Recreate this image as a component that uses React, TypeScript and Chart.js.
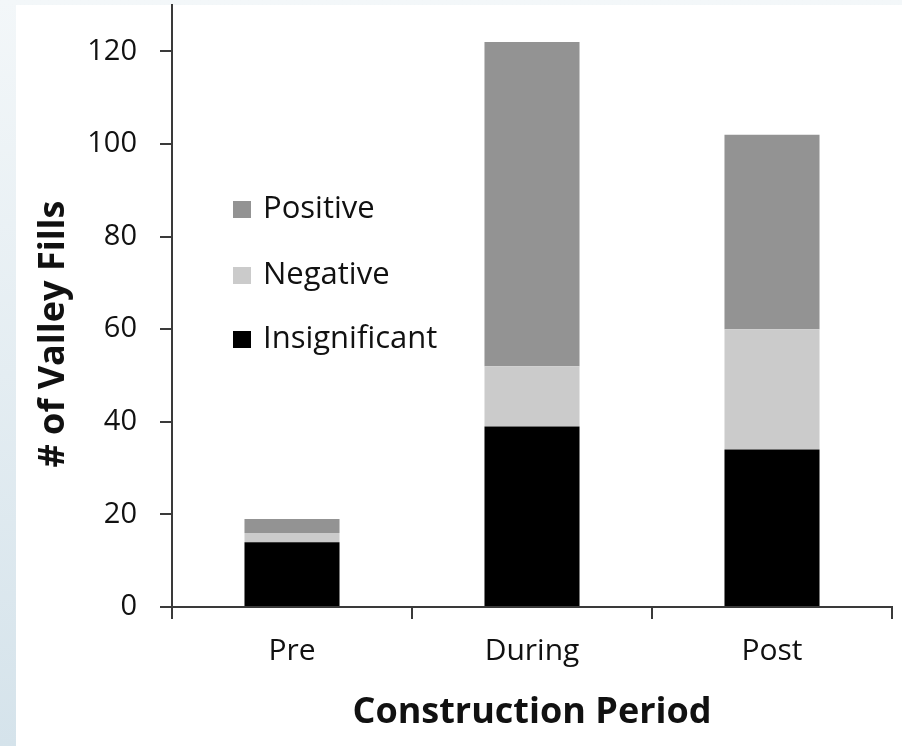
import React, { useEffect, useRef } from "react";
import { Chart, registerables } from "chart.js";

Chart.register(...registerables);

const categories = ["Pre", "During", "Post"];
const insignificant = [14, 39, 34];
const negative = [2, 13, 26];
const positive = [3, 70, 42];
const yTickValues = [0, 20, 40, 60, 80, 100, 120];

const FONT = "'Open Sans', Lato, sans-serif";
const AXIS = "#3a3a3a";
const TEXT = "#111111";

const legendPlugin = {
  id: "insideLegend",
  afterDraw(chart: any) {
    const ctx = chart.ctx;
    const ds = chart.data.datasets.slice().reverse();
    const baselines = [218, 284, 348];
    ctx.save();
    ctx.font = `31px ${FONT}`;
    ctx.textBaseline = "alphabetic";
    ctx.textAlign = "left";
    ds.forEach((d: any, i: number) => {
      const b = baselines[i];
      ctx.fillStyle = d.backgroundColor;
      ctx.fillRect(233, b - 17, 18, 17);
      ctx.fillStyle = TEXT;
      ctx.fillText(d.label, 263, b);
    });
    ctx.restore();
  },
};

const yTitlePlugin = {
  id: "yTitle",
  afterDraw(chart: any) {
    const ctx = chart.ctx;
    ctx.save();
    ctx.translate(64, 334);
    ctx.rotate(-Math.PI / 2);
    ctx.font = `bold 36px ${FONT}`;
    ctx.fillStyle = TEXT;
    ctx.textAlign = "center";
    ctx.textBaseline = "alphabetic";
    ctx.fillText("# of Valley Fills", 0, 0);
    ctx.restore();
  },
};

export default function App() {
  const ref = useRef<HTMLCanvasElement>(null);
  useEffect(() => {
    if (!ref.current) return;
    const chart = new Chart(ref.current, {
      type: "bar",
      data: {
        labels: categories,
        datasets: [
          { label: "Insignificant", data: insignificant, backgroundColor: "#000000" },
          { label: "Negative", data: negative, backgroundColor: "#cbcbcb" },
          { label: "Positive", data: positive, backgroundColor: "#939393" },
        ],
      },
      options: {
        animation: false,
        responsive: false,
        maintainAspectRatio: false,
        layout: { padding: { left: 0, top: 5, right: 10, bottom: 0 } },
        plugins: { legend: { display: false }, tooltip: { enabled: false } },
        datasets: { bar: { categoryPercentage: 1, barPercentage: 0.396 } },
        scales: {
          x: {
            stacked: true,
            offset: true,
            grid: {
              display: true,
              offset: true,
              drawOnChartArea: false,
              drawTicks: true,
              tickLength: 12,
              color: AXIS,
              lineWidth: 2,
            },
            border: { display: true, color: AXIS, width: 2 },
            ticks: {
              font: { family: FONT, size: 30 },
              color: TEXT,
              padding: 14,
              maxRotation: 0,
            },
            title: {
              display: true,
              text: "Construction Period",
              font: { family: FONT, size: 36, weight: "bold" },
              color: TEXT,
              padding: { top: 0, bottom: 12 },
            },
            afterFit(scale: any) {
              scale.height = 139;
              scale.paddingLeft = 0;
              scale.paddingRight = 0;
            },
          },
          y: {
            stacked: true,
            min: 0,
            max: 130,
            grid: {
              display: true,
              drawOnChartArea: false,
              drawTicks: true,
              tickLength: 12,
              color: AXIS,
              lineWidth: 2,
            },
            border: { display: true, color: AXIS, width: 2 },
            ticks: {
              font: { family: FONT, size: 29 },
              color: TEXT,
              padding: 23,
            },
            afterBuildTicks(scale: any) {
              scale.ticks = yTickValues.map((v) => ({ value: v }));
            },
            afterFit(scale: any) {
              scale.width = 172;
              scale.paddingTop = 0;
              scale.paddingBottom = 0;
            },
          },
        },
      },
      plugins: [legendPlugin, yTitlePlugin],
    });
    return () => chart.destroy();
  }, []);

  return (
    <div
      style={{
        position: "fixed",
        left: 0,
        top: 0,
        width: 902,
        height: 746,
        background: "linear-gradient(to bottom, #f3f7f9, #d5e3eb)",
        overflow: "hidden",
      }}
    >
      <div
        style={{
          position: "absolute",
          left: 16,
          top: 5,
          right: 0,
          bottom: 0,
          background: "#ffffff",
        }}
      />
      <canvas
        ref={ref}
        width={902}
        height={746}
        style={{ position: "absolute", left: 0, top: 0, width: 902, height: 746 }}
      />
    </div>
  );
}
